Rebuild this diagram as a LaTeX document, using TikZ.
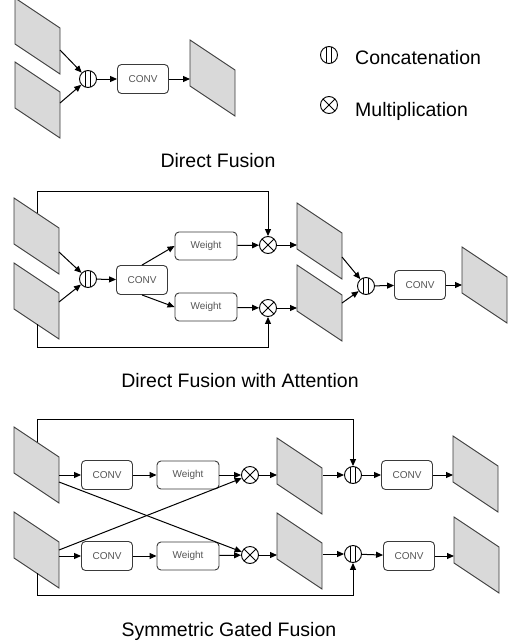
\documentclass[tikz,border=0pt]{standalone}
\usepackage{fontspec}
\setmainfont{Liberation Sans}
\usetikzlibrary{arrows.meta,calc}
\definecolor{plategray}{HTML}{D9D9D9}
\definecolor{edgegray}{HTML}{3A3A3A}
\definecolor{boxtext}{HTML}{555555}
\tikzset{
  plate/.style={fill=plategray, draw=edgegray, line width=0.9pt},
  arr/.style={draw=black, line width=1pt, -{Triangle[length=7pt,width=6pt]}},
  link/.style={draw=black, line width=1pt},
  opbox/.style={draw=edgegray, rounded corners=4pt, line width=0.9pt, fill=white,
    font=\fontsize{10}{12}\selectfont, text=boxtext, inner sep=0pt},
  convbox/.style={opbox, minimum width=51pt, minimum height=29pt},
  weightbox/.style={opbox, minimum width=62pt, minimum height=28pt},
  concat/.style={circle, draw=black, line width=0.9pt, fill=white, minimum size=17pt, inner sep=0pt,
    path picture={
      \draw[line width=0.8pt] ($(path picture bounding box.center)+(-2.4,-10)$) -- +(0,20);
      \draw[line width=0.8pt] ($(path picture bounding box.center)+(2.4,-10)$) -- +(0,20);}},
  mult/.style={circle, draw=black, line width=0.9pt, fill=white, minimum size=17pt, inner sep=0pt,
    path picture={
      \draw[line width=0.8pt] (path picture bounding box.south west) -- (path picture bounding box.north east);
      \draw[line width=0.8pt] (path picture bounding box.north west) -- (path picture bounding box.south east);}},
  title/.style={font=\fontsize{19.5}{22}\selectfont, anchor=base, inner sep=0pt},
  legend/.style={font=\fontsize{19.5}{22}\selectfont, anchor=base west, inner sep=0pt}
}
% \plate{name}{left x}{top-left y}
\newcommand\plate[3]{%
  \path (#2,#3) coordinate (#1-tl) ++(45,30) coordinate (#1-tr) ++(0,46) coordinate (#1-br) ++(-45,-30) coordinate (#1-bl);
  \filldraw[plate] (#1-tl) -- (#1-tr) -- (#1-br) -- (#1-bl) -- cycle;}
\begin{document}
\begin{tikzpicture}[x=1pt,y=-1pt]
\useasboundingbox (0,0) rectangle (510,643);
\begin{scope}
\clip (0,0) rectangle (510,643);
% ---------------- Direct Fusion ----------------
\plate{pa}{15}{-2}
\plate{pb}{15}{62}
\plate{pc}{190}{40}
\node[concat] (c1) at (88,79) {};
\node[convbox] (conv1) at (143,79) {CONV};
\coordinate (pa-o) at (60,50);
\coordinate (pb-o) at (60,103);
\coordinate (pc-i) at (190,79);
\draw[arr] (pa-o) -- (c1);
\draw[arr] (pb-o) -- (c1);
\draw[arr] (c1) -- (conv1);
\draw[arr] (conv1) -- (pc-i);
\end{scope}
% legend
\node[concat] (lc) at (329,55) {};
\node[legend] (lct) at (355,64) {Concatenation};
\node[mult] (lm) at (329,105) {};
\node[legend] (lmt) at (355,116) {Multiplication};
\node[title] (t1) at (218,167) {Direct Fusion};
% ---------------- Direct Fusion with Attention ----------------
\plate{qa}{14}{198}
\plate{qb}{14}{263}
\plate{qc}{297}{203}
\plate{qd}{297}{265}
\plate{qe}{462}{247}
\node[concat] (c2) at (88,279) {};
\node[convbox] (conv2) at (142,280) {CONV};
\node[weightbox] (w1) at (206,246) {Weight};
\node[weightbox] (w2) at (206,307) {Weight};
\node[mult] (m1) at (268,245) {};
\node[mult] (m2) at (268,308) {};
\node[concat] (c3) at (366,286) {};
\node[convbox] (conv3) at (420,285) {CONV};
\coordinate (qa-o) at (59,252);
\coordinate (qb-o) at (59,302);
\coordinate (qa-t) at (37,213.3);
\coordinate (qb-b) at (37,324.3);
\coordinate (qc-i) at (297,245);
\coordinate (qd-i) at (297,308);
\coordinate (qc-o) at (342,257);
\coordinate (qd-o) at (342,303);
\coordinate (qe-i) at (462,285);
\draw[arr] (qa-o) -- (c2);
\draw[arr] (qb-o) -- (c2);
\draw[arr] (c2) -- (conv2);
\draw[arr] (conv2.north) -- (w1.west);
\draw[arr] (conv2.south) -- (w2.west);
\draw[arr] (w1) -- (m1);
\draw[arr] (w2) -- (m2);
\draw[arr] (qa-t) -- ++(0,-22) -| (m1);
\draw[arr] (qb-b) -- ++(0,23) -| (m2);
\draw[arr] (m1) -- (qc-i);
\draw[arr] (m2) -- (qd-i);
\draw[arr] (qc-o) -- (c3);
\draw[arr] (qd-o) -- (c3);
\draw[arr] (c3) -- (conv3);
\draw[arr] (conv3) -- (qe-i);
\node[title] (t2) at (240,387) {Direct Fusion with Attention};
% ---------------- Symmetric Gated Fusion ----------------
\plate{ra}{14}{427}
\plate{rb}{14}{512}
\plate{rc}{277}{438}
\plate{rd}{277}{513}
\plate{re}{453}{436}
\plate{rf}{454}{517}
\node[convbox] (conv4) at (107,475) {CONV};
\node[weightbox] (w3) at (188,475) {Weight};
\node[mult] (m3) at (250,475) {};
\node[convbox] (conv5) at (107,556) {CONV};
\node[weightbox] (w4) at (188,556) {Weight};
\node[mult] (m4) at (250,555) {};
\node[concat] (c4) at (353,475) {};
\node[concat] (c5) at (353,554) {};
\node[convbox] (conv6) at (407,475) {CONV};
\node[convbox] (conv7) at (409,556) {CONV};
\coordinate (ra-o) at (59,475);
\coordinate (ra-x) at (59,482);
\coordinate (rb-x) at (59,550);
\coordinate (rb-o) at (59,556);
\coordinate (ra-t) at (37,442.3);
\coordinate (rb-b) at (37,573.3);
\coordinate (rc-i) at (277,475);
\coordinate (rd-i) at (277,555);
\coordinate (rc-o) at (323,475);
\coordinate (rd-o) at (323,554);
\coordinate (re-i) at (453,475);
\coordinate (rf-i) at (454,556);
\draw[arr] (ra-o) -- (conv4);
\draw[arr] (rb-o) -- (conv5);
\draw[arr] (ra-x) -- (m4);
\draw[arr] (rb-x) -- (m3);
\draw[arr] (conv4) -- (w3);
\draw[arr] (conv5) -- (w4);
\draw[arr] (w3) -- (m3);
\draw[arr] (w4) -- (m4);
\draw[arr] (m3) -- (rc-i);
\draw[arr] (m4) -- (rd-i);
\draw[arr] (rc-o) -- (c4);
\draw[arr] (rd-o) -- (c5);
\draw[arr] (ra-t) -- ++(0,-23) -| (c4);
\draw[arr] (rb-b) -- ++(0,22) -| (c5);
\draw[arr] (c4) -- (conv6);
\draw[arr] (c5) -- (conv7);
\draw[arr] (conv6) -- (re-i);
\draw[arr] (conv7) -- (rf-i);
\node[title] (t3) at (229,636) {Symmetric Gated Fusion};
\end{tikzpicture}
\end{document}
